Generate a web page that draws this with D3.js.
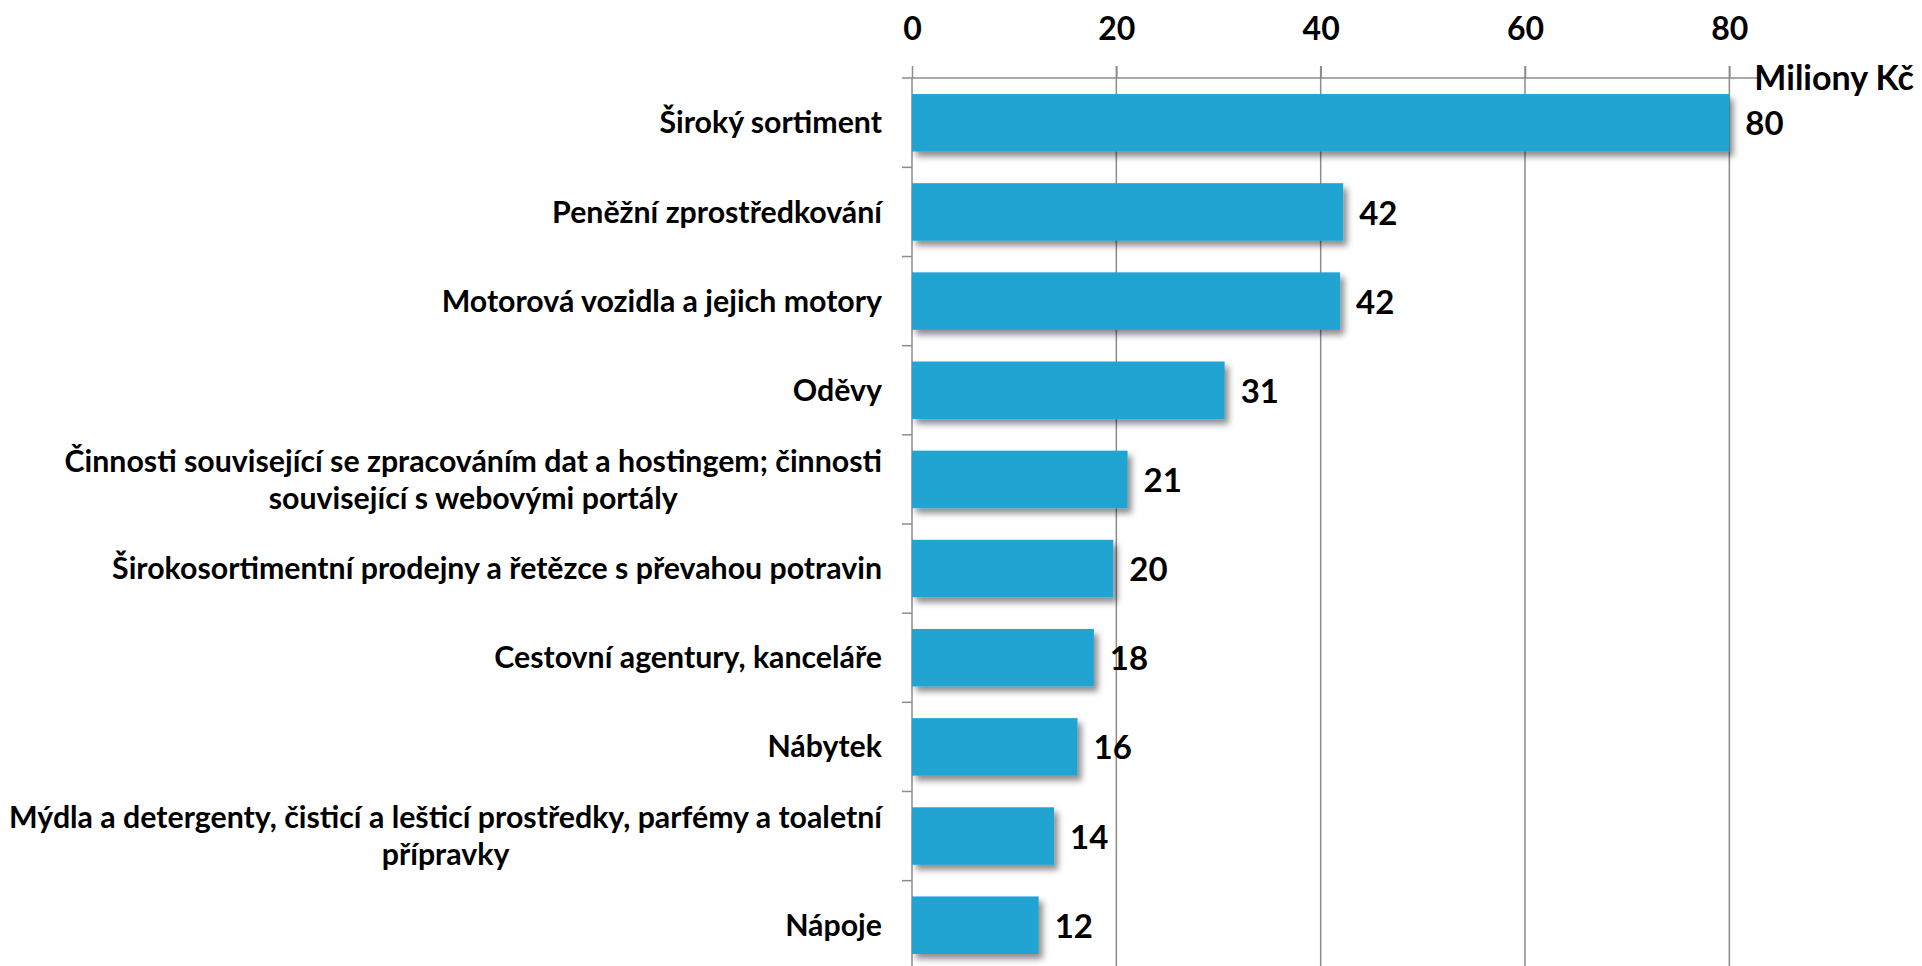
<!DOCTYPE html>
<html>
<head>
<meta charset="utf-8">
<script src="https://cdn.jsdelivr.net/npm/d3@7"></script>
<style>
	body { margin: 0; background: #fff; }
	svg { display: block; font-family: Lato, 'Open Sans', sans-serif; font-weight: bold; }
</style>
</head>
<body>
<svg width="1922" height="966"></svg>
<script>
'use strict';

// categories, top to bottom ("\n" = line break in the label)
const categories = [
	'Široký sortiment',
	'Peněžní zprostředkování',
	'Motorová vozidla a jejich motory',
	'Oděvy',
	'Činnosti související se zpracováním dat a hostingem; činnosti\nsouvisející s webovými portály',
	'Širokosortimentní prodejny a řetězce s převahou potravin',
	'Cestovní agentury, kanceláře',
	'Nábytek',
	'Mýdla a detergenty, čisticí a lešticí prostředky, parfémy a toaletní\npřípravky',
	'Nápoje'
];
const values = [80, 42.2, 41.9, 30.6, 21.1, 19.7, 17.8, 16.2, 13.9, 12.4];
const xTicks = [0, 20, 40, 60, 80];
const unitLabel = 'Miliony Kč';

const data = categories.map((c, i) => ({ cat: c, value: values[i] }));

const $svg = d3.select('svg');

const x = d3.scaleLinear().domain([0, 83]).range([912, 1760]);
const y = d3.scaleBand()
	.domain(categories)
	.range([78, 970])
	.paddingInner(0.355)
	.paddingOuter(0.18)
;

// shadow under the bars
$svg.append('defs').append('filter')
	.attr('id', 'shadow')
	.attr('x', '-5%').attr('y', '-20%')
	.attr('width', '115%').attr('height', '160%')
	.append('feDropShadow')
	.attr('dx', 4).attr('dy', 5)
	.attr('stdDeviation', 3)
	.attr('flood-color', '#000')
	.attr('flood-opacity', 0.45)
;

const gridColor = '#8c8c8c';

// vertical gridlines
$svg.append('g')
	.selectAll('line')
	.data(xTicks.slice(1))
	.join('line')
	.attr('x1', d => x(d)).attr('x2', d => x(d))
	.attr('y1', 66).attr('y2', 966)
	.attr('stroke', gridColor)
	.attr('stroke-width', 1.5)
;

// top axis
const $xAxis = $svg.append('g')
	.attr('transform', 'translate(0,78)')
	.call(d3.axisTop(x).tickValues(xTicks).tickSize(12).tickSizeOuter(0).tickPadding(26))
;
$xAxis.select('.domain').remove();
$xAxis.selectAll('line').attr('stroke', gridColor).attr('stroke-width', 1.5);
$xAxis.selectAll('text')
	.attr('fill', '#000')
	.attr('font-size', 32)
	.attr('font-family', 'Lato, sans-serif')
	.attr('font-weight', 'bold')
;
$svg.append('line')
	.attr('x1', 902).attr('x2', x.range()[1])
	.attr('y1', 78).attr('y2', 78)
	.attr('stroke', gridColor)
	.attr('stroke-width', 1.5)
;

// left axis with ticks between the categories
const step = y.step();
const bounds = categories.map(c => y(c) - y.paddingInner() * step / 2).slice(1);
$svg.append('line')
	.attr('x1', x(0)).attr('x2', x(0))
	.attr('y1', 78).attr('y2', 966)
	.attr('stroke', gridColor)
	.attr('stroke-width', 1.5)
;
$svg.append('g')
	.selectAll('line')
	.data(bounds)
	.join('line')
	.attr('x1', 902).attr('x2', x(0))
	.attr('y1', d => d).attr('y2', d => d)
	.attr('stroke', gridColor)
	.attr('stroke-width', 1.5)
;

// bars
$svg.append('g')
	.selectAll('rect')
	.data(data)
	.join('rect')
	.attr('x', x(0))
	.attr('y', d => y(d.cat))
	.attr('width', d => x(d.value) - x(0))
	.attr('height', y.bandwidth())
	.attr('fill', '#22a4d3')
	.attr('filter', 'url(#shadow)')
;

// value labels
$svg.append('g')
	.selectAll('text')
	.data(data)
	.join('text')
	.attr('x', d => x(d.value) + 16)
	.attr('y', d => y(d.cat) + y.bandwidth() / 2 + 1)
	.attr('dy', '0.35em')
	.attr('font-size', 33)
	.text(d => d3.format('.0f')(d.value))
;

// category labels, multi-line ones centred within their block
const labelRight = 882;
const lineGap = 37;
$svg.append('g')
	.selectAll('g')
	.data(data)
	.join('g')
	.each(function(d) {
		const lines = d.cat.split('\n');
		const cy = y(d.cat) + y.bandwidth() / 2;
		const $t = d3.select(this).append('text')
			.attr('font-size', 30.3)
			.attr('text-anchor', lines.length > 1 ? 'middle' : 'end')
		;
		if (lines.length === 1) {
			$t.attr('x', labelRight).attr('y', cy).attr('dy', '0.35em').text(lines[0]);
			return;
		}
		const $first = $t.append('tspan').text(lines[0]);
		const w = $first.node().getComputedTextLength();
		const cx = labelRight - w / 2;
		const top = cy - (lines.length - 1) * lineGap / 2;
		$t.attr('x', cx);
		$first.attr('x', cx).attr('y', top).attr('dy', '0.35em');
		lines.slice(1).forEach((l, k) => {
			$t.append('tspan')
				.attr('x', cx)
				.attr('y', top + (k + 1) * lineGap)
				.attr('dy', '0.35em')
				.text(l);
		});
	})
;

// unit label
$svg.append('text')
	.attr('x', 1914)
	.attr('y', 78)
	.attr('dy', '0.35em')
	.attr('text-anchor', 'end')
	.attr('font-size', 34)
	.text(unitLabel)
;
</script>
</body>
</html>
